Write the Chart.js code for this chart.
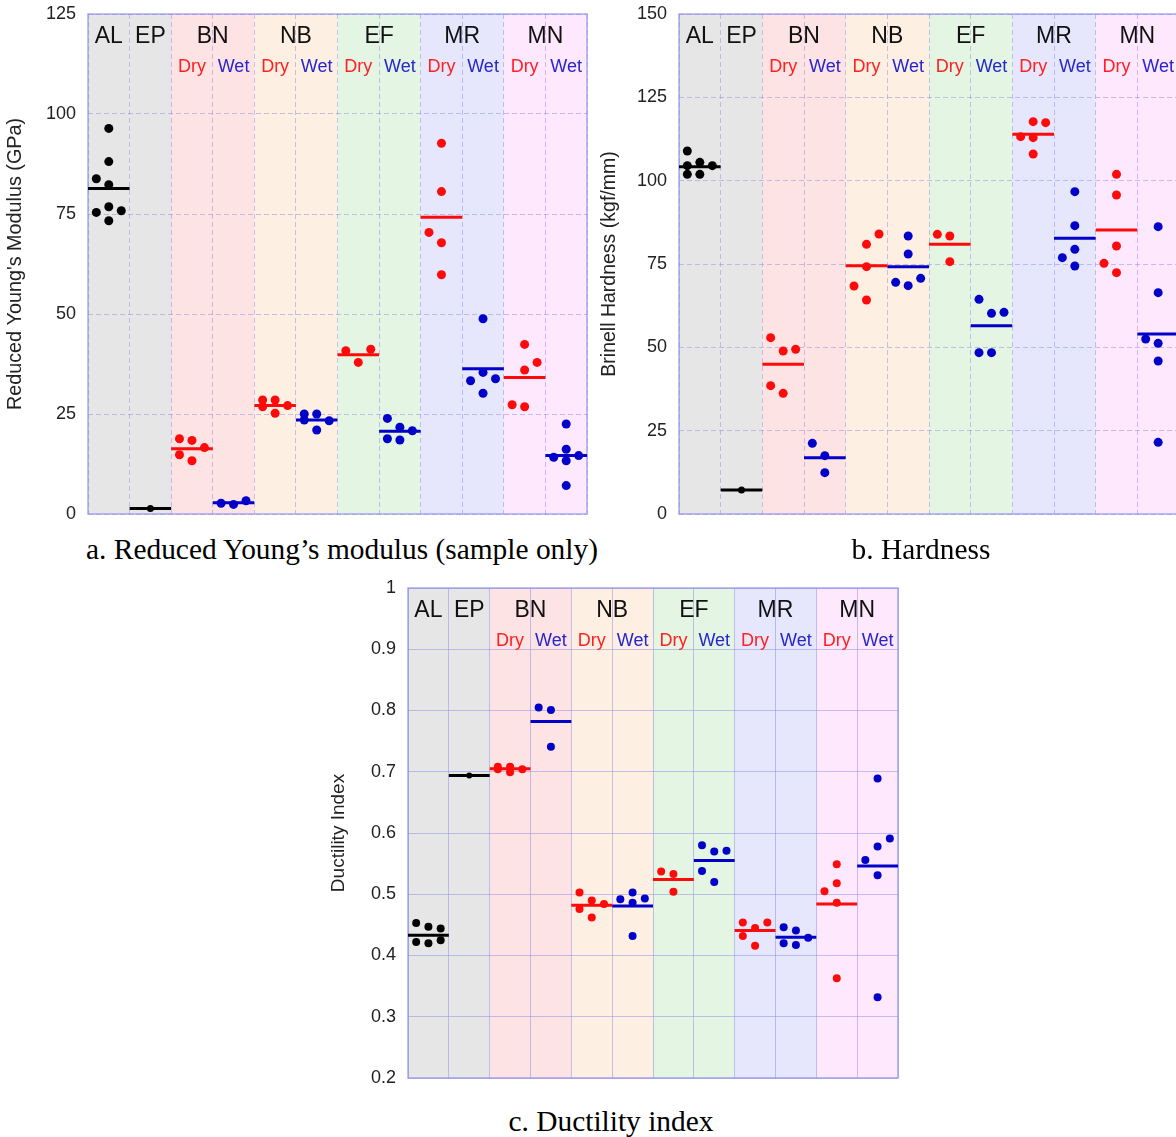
<!DOCTYPE html>
<html>
<head>
<meta charset="utf-8">
<script src="https://cdn.jsdelivr.net/npm/chart.js@4.4.0/dist/chart.umd.min.js"></script>
<style>
  html, body { margin: 0; padding: 0; background: #fff; overflow: hidden; }
  body { width: 1176px; height: 1137px; position: relative; }
  .box { position: absolute; }
  .caption {
    position: absolute;
    width: 600px;
    text-align: center;
    white-space: nowrap;
    font-family: 'Liberation Serif', 'Times New Roman', serif;
    font-size: 29.4px;
    line-height: 32px;
    color: #000;
  }
</style>
</head>
<body>
<div class="box" style="left:0;top:0"><canvas id="chartA" width="600" height="530"></canvas></div>
<div class="box" style="left:595px;top:0"><canvas id="chartB" width="600" height="530"></canvas></div>
<div class="box" style="left:320px;top:575px"><canvas id="chartC" width="600" height="515"></canvas></div>
<div class="caption" style="left:42px;top:533px">a. Reduced Young’s modulus (sample only)</div>
<div class="caption" style="left:621px;top:533px">b. Hardness</div>
<div class="caption" style="left:311px;top:1105px">c. Ductility index</div>

<script>
  // groups and columns (AL, EP single column; others split Dry / Wet)
  const groupNames = ['AL', 'EP', 'BN', 'NB', 'EF', 'MR', 'MN'];
  const groupCols = [1, 1, 2, 2, 2, 2, 2];
  const colConditions = ['', '', 'Dry', 'Wet', 'Dry', 'Wet', 'Dry', 'Wet', 'Dry', 'Wet', 'Dry', 'Wet'];

  // a. Reduced Young's modulus (GPa)
  const youngValues = [
    [96.4, 88.1, 83.8, 82.3, 76.8, 75.4, 75.8, 73.3],
    [1.4],
    [18.8, 18.4, 16.6, 14.8, 13.3],
    [2.7, 2.4, 3.3],
    [28.5, 28.5, 27.1, 26.8, 25.2],
    [25.0, 25.0, 23.3, 23.5, 21.0],
    [40.8, 41.2, 37.9],
    [23.9, 21.7, 20.8, 18.8, 18.5],
    [92.7, 80.6, 70.4, 67.8, 59.8],
    [48.8, 35.4, 33.3, 33.8, 30.2],
    [42.4, 37.9, 36.0, 27.3, 26.8],
    [22.5, 16.2, 14.2, 14.6, 13.3, 7.1]
  ];
  const youngSlots = [
    [1, 1, 0, 1, 1, 0, 2, 1], [1], [0, 1, 2, 0, 1], [0, 1, 2], [0, 1, 2, 0, 1], [0, 1, 2, 0, 1],
    [0, 2, 1], [0, 1, 2, 0, 1], [1, 1, 0, 1, 1], [1, 1, 0, 2, 1], [1, 2, 1, 0, 1], [1, 1, 0, 2, 1, 1]
  ];
  const youngMeans = [81.4, 1.4, 16.3, 2.8, 27.1, 23.5, 39.8, 20.7, 74.2, 36.3, 34.1, 14.6];
  const youngTicks = [0, 25, 50, 75, 100, 125];
  const youngTickLabels = ['0', '25', '50', '75', '100', '125'];

  // b. Brinell hardness (kgf/mm)
  const hardValues = [
    [108.9, 104.5, 105.5, 104.5, 101.9, 101.9],
    [7.2],
    [52.9, 48.9, 49.4, 38.5, 36.2],
    [21.2, 17.5, 12.4],
    [80.9, 84.0, 74.2, 68.4, 64.2],
    [83.4, 78.0, 69.5, 68.5, 70.7],
    [83.9, 83.4, 75.7],
    [64.4, 60.2, 60.5, 48.4, 48.4],
    [117.7, 117.4, 113.2, 112.9, 108.0],
    [96.7, 86.5, 79.4, 76.9, 74.4],
    [101.9, 95.7, 80.4, 75.2, 72.4],
    [86.2, 66.4, 52.5, 51.2, 45.9, 21.5]
  ];
  const hardSlots = [
    [0, 0, 1, 2, 0, 1], [1], [0, 1, 2, 0, 1], [0, 1, 1], [1, 2, 1, 0, 1], [1, 1, 0, 1, 2],
    [0, 1, 1], [0, 1, 2, 0, 1], [1, 2, 0, 1, 1], [1, 1, 1, 0, 1], [1, 1, 1, 0, 1], [1, 1, 0, 1, 1, 1]
  ];
  const hardMeans = [104.2, 7.2, 44.9, 16.9, 74.5, 74.2, 80.9, 56.5, 113.9, 82.7, 85.2, 54.0];
  const hardTicks = [0, 25, 50, 75, 100, 125, 150];
  const hardTickLabels = ['0', '25', '50', '75', '100', '125', '150'];

  // c. Ductility index
  const ductValues = [
    [0.453, 0.447, 0.444, 0.422, 0.420, 0.425],
    [0.694],
    [0.708, 0.708, 0.699, 0.704, 0.704],
    [0.805, 0.801, 0.741],
    [0.503, 0.490, 0.484, 0.476, 0.462],
    [0.492, 0.503, 0.493, 0.486, 0.432],
    [0.537, 0.533, 0.504],
    [0.580, 0.570, 0.571, 0.538, 0.520],
    [0.454, 0.454, 0.445, 0.432, 0.416],
    [0.446, 0.441, 0.429, 0.420, 0.417],
    [0.549, 0.518, 0.505, 0.486, 0.363],
    [0.689, 0.591, 0.578, 0.556, 0.531, 0.332]
  ];
  const ductSlots = [
    [0, 1, 2, 0, 1, 2], [1], [0, 1, 1, 2, 0], [0, 1, 1], [0, 1, 2, 0, 1], [0, 1, 2, 1, 1],
    [0, 1, 1], [0, 1, 2, 0, 1], [0, 2, 1, 0, 1], [0, 1, 2, 0, 1], [1, 1, 0, 1, 1], [1, 2, 1, 0, 1, 1]
  ];
  const ductMeans = [0.433, 0.694, 0.705, 0.782, 0.482, 0.481, 0.524, 0.555, 0.441, 0.430, 0.484, 0.546];
  const ductTicks = [0.2, 0.3, 0.4, 0.5, 0.6, 0.7, 0.8, 0.9, 1];
  const ductTickLabels = ['0.2', '0.3', '0.4', '0.5', '0.6', '0.7', '0.8', '0.9', '1'];

  // styles
  const bandColors = ['#e6e6e6', '#e6e6e6', '#fde3e3', '#fdf0e3', '#e5f5e3', '#e6e7fd', '#fde8fd'];
  const FONT = "'Liberation Sans', Arial, sans-serif";
  const colColor = i => i < 2 ? '#000000' : (colConditions[i] === 'Dry' ? '#ff0a0a' : '#0000c8');
  const labelColor = c => c === 'Dry' ? '#ff2020' : '#2626cc';

  const framePlugin = {
    id: 'frame',
    beforeDraw(chart) {
      const { ctx, chartArea: a, scales: { x } } = chart;
      ctx.save();
      let c = 0;
      groupCols.forEach((n, g) => {
        const x0 = x.getPixelForValue(c), x1 = x.getPixelForValue(c + n);
        ctx.fillStyle = bandColors[g];
        ctx.fillRect(x0, a.top, x1 - x0, a.bottom - a.top);
        c += n;
      });
      ctx.restore();
    },
    beforeDatasetsDraw(chart) {
      const { ctx, chartArea: a, scales: { x } } = chart;
      ctx.save();
      ctx.strokeStyle = 'rgba(140,140,235,0.75)';
      ctx.lineWidth = 1.5;
      ctx.strokeRect(a.left, a.top, a.right - a.left, a.bottom - a.top);

      ctx.textAlign = 'center';
      ctx.textBaseline = 'alphabetic';
      let c = 0;
      groupNames.forEach((name, g) => {
        const xm = x.getPixelForValue(c + groupCols[g] / 2);
        ctx.font = '23px ' + FONT;
        ctx.fillStyle = '#111';
        ctx.fillText(name, xm, a.top + 29);
        c += groupCols[g];
      });
      ctx.font = '18px ' + FONT;
      colConditions.forEach((cond, i) => {
        if (!cond) return;
        ctx.fillStyle = labelColor(cond);
        ctx.fillText(cond, x.getPixelForValue(i + 0.5), a.top + 58);
      });
      ctx.restore();
    }
  };

  function makeChart(id, o) {
    const dots = o.values.map((col, i) => ({
      data: col.map((v, j) => ({ x: i + 0.2 + 0.3 * o.slots[i][j], y: v })),
      showLine: false,
      pointRadius: i === 1 ? o.r - 1 : o.r,
      pointBackgroundColor: colColor(i),
      pointBorderWidth: 0
    }));
    const means = o.means.map((m, i) => ({
      data: [{ x: i, y: m }, { x: i + 1, y: m }],
      showLine: true,
      borderColor: colColor(i),
      borderWidth: 3,
      pointRadius: 0
    }));

    new Chart(document.getElementById(id), {
      type: 'scatter',
      data: { datasets: [...dots, ...means] },
      options: {
        responsive: false,
        animation: false,
        events: [],
        layout: { padding: o.padding },
        plugins: { legend: { display: false }, tooltip: { enabled: false } },
        scales: {
          x: {
            type: 'linear', min: 0, max: 12,
            afterBuildTicks: s => { s.ticks = colConditions.concat(['']).map((_, i) => ({ value: i })); },
            ticks: { display: false },
            grid: { color: o.gridColor, drawTicks: false },
            border: { display: false, dash: o.dash },
            afterFit: s => { s.height = 0; s.paddingLeft = 0; s.paddingRight = 0; }
          },
          y: {
            min: o.ticks[0], max: o.ticks[o.ticks.length - 1],
            afterBuildTicks: s => { s.ticks = o.ticks.map(v => ({ value: v })); },
            ticks: {
              callback: (v, i) => o.tickLabels[i],
              font: { family: FONT, size: 18 },
              color: '#222',
              padding: 12
            },
            grid: { color: o.gridColor, drawTicks: false },
            border: { display: false, dash: o.dash },
            title: {
              display: true, text: o.title, color: '#222',
              font: { family: FONT, size: o.titleSize },
              padding: { top: o.titlePad, bottom: 0 }
            },
            afterFit: s => { s.width = o.yWidth; s.paddingTop = 0; s.paddingBottom = 0; }
          }
        }
      },
      plugins: [framePlugin]
    });
  }

  makeChart('chartA', {
    values: youngValues, slots: youngSlots, means: youngMeans,
    ticks: youngTicks, tickLabels: youngTickLabels,
    title: 'Reduced Young\'s Modulus (GPa)', titleSize: 19.8, titlePad: 4,
    yWidth: 88, padding: { top: 14, bottom: 16, right: 13, left: 0 },
    r: 4.5, dash: [5, 3], gridColor: 'rgba(130,130,225,0.45)'
  });

  makeChart('chartB', {
    values: hardValues, slots: hardSlots, means: hardMeans,
    ticks: hardTicks, tickLabels: hardTickLabels,
    title: 'Brinell Hardness (kgf/mm)', titleSize: 19.5, titlePad: 3,
    yWidth: 84, padding: { top: 14, bottom: 16, right: 16, left: 0 },
    r: 4.5, dash: [5, 3], gridColor: 'rgba(130,130,225,0.45)'
  });

  makeChart('chartC', {
    values: ductValues, slots: ductSlots, means: ductMeans,
    ticks: ductTicks, tickLabels: ductTickLabels,
    title: 'Ductility Index', titleSize: 19, titlePad: 7.5,
    yWidth: 88, padding: { top: 13, bottom: 12, right: 22, left: 0 },
    r: 4, dash: [], gridColor: 'rgba(140,140,230,0.5)'
  });
</script>
</body>
</html>
